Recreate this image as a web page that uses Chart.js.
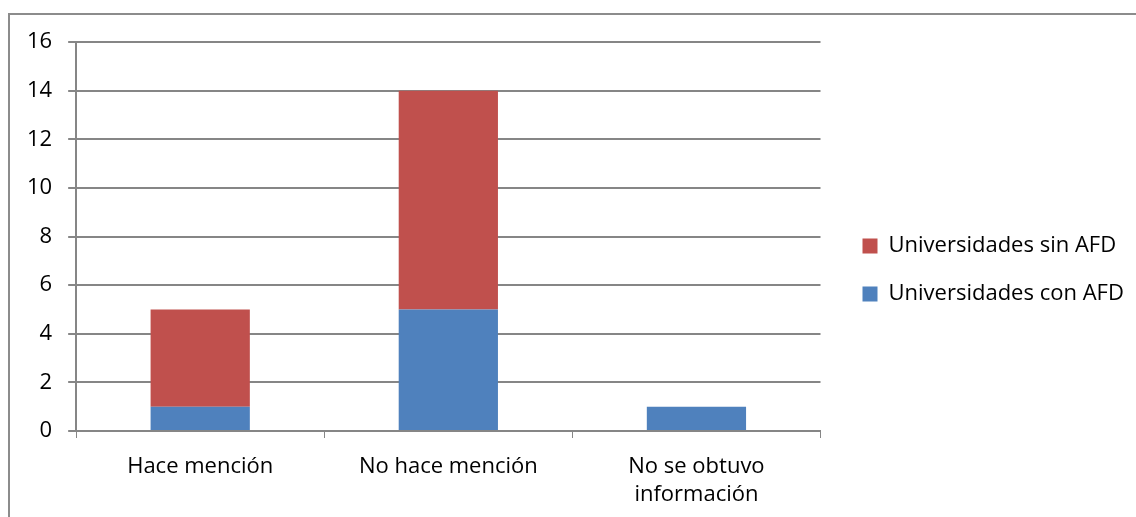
<!DOCTYPE html>
<html>
<head>
<meta charset="utf-8">
<script src="https://cdn.jsdelivr.net/npm/chart.js@4"></script>
<style>
  html, body { margin: 0; padding: 0; background: #fff; overflow: hidden; }
  #frame { position: absolute; left: 8px; top: 13px; width: 1140px; height: 520px; border: 2px solid #8c8c8c; box-sizing: border-box; }
  #wrap { position: absolute; left: 8px; top: 13px; width: 1128px; height: 513px; }
</style>
</head>
<body>
<div id="frame"></div>
<div id="wrap"><canvas id="myChart"></canvas></div>
<script>
var categorias = ['Hace mención', 'No hace mención', ['No se obtuvo', 'información']];
var conAFD = [1, 5, 1];
var sinAFD = [4, 9, 0];

var gris = '#868686';
var fuente = { family: 'Open Sans', size: 22 };

// la leyenda ocupa más ancho y se separa del área del gráfico
var moverLeyenda = {
    id: 'moverLeyenda',
    afterInit: function (chart) {
        var leyenda = chart.legend;
        var fitOriginal = leyenda.fit;
        leyenda.fit = function () {
            fitOriginal.call(this);
            this.width += 26;
        };
    },
    afterLayout: function (chart) {
        chart.legend.left += 16;
        chart.legend.top -= 7;
        chart.legend.bottom -= 7;
    }
};

var ctx = document.getElementById('myChart');
var myChart = new Chart(ctx, {
    type: 'bar',
    data: {
        labels: categorias,
        datasets: [{
            label: 'Universidades con AFD',
            data: conAFD,
            backgroundColor: '#4F81BD',
            barPercentage: 0.4,
            categoryPercentage: 1
        }, {
            label: 'Universidades sin AFD',
            data: sinAFD,
            backgroundColor: '#C0504D',
            barPercentage: 0.4,
            categoryPercentage: 1
        }]
    },
    plugins: [moverLeyenda],
    options: {
        responsive: true,
        maintainAspectRatio: false,
        animation: false,
        layout: { padding: { left: 3, right: 11, top: 18, bottom: 3 } },
        plugins: {
            tooltip: { enabled: false },
            legend: {
                position: 'right',
                reverse: true,
                labels: {
                    font: fuente,
                    color: '#000',
                    boxWidth: 15,
                    boxHeight: 15,
                    padding: 26
                }
            }
        },
        scales: {
            x: {
                stacked: true,
                grid: { offset: true, drawOnChartArea: false, color: gris, tickLength: 7 },
                border: { color: gris, width: 2 },
                ticks: { font: Object.assign({ lineHeight: 1.25 }, fuente), color: '#000', padding: 15, maxRotation: 0 }
            },
            y: {
                stacked: true,
                min: 0,
                max: 16,
                grid: { color: gris, lineWidth: 2, tickLength: 8 },
                border: { color: gris, width: 2 },
                ticks: { stepSize: 2, font: fuente, color: '#000', padding: 16 }
            }
        }
    }
});
</script>
</body>
</html>
